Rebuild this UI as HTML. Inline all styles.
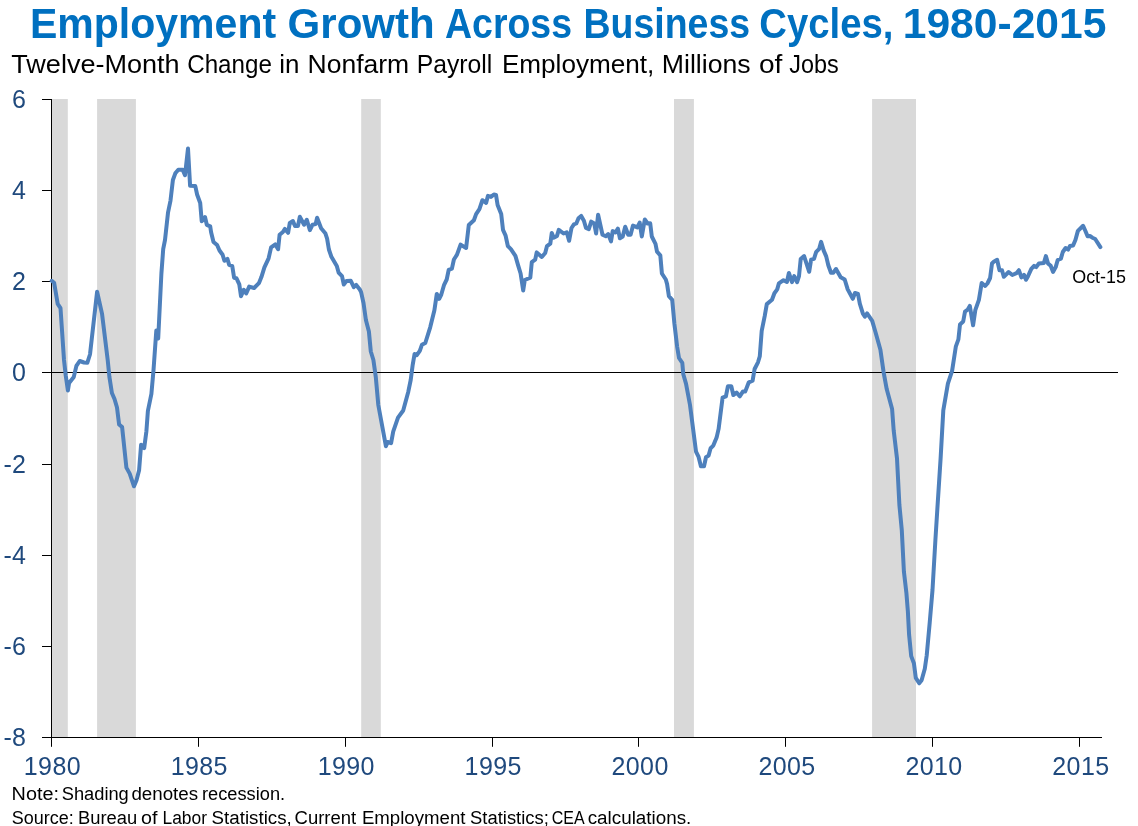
<!DOCTYPE html>
<html lang="en"><head><meta charset="utf-8"><title>Employment Growth Across Business Cycles, 1980-2015</title>
<style>html,body{margin:0;padding:0;background:#fff}body{width:1138px;height:826px;overflow:hidden;font-family:"Liberation Sans",sans-serif}svg{display:block}</style>
</head><body>
<svg width="1138" height="826" viewBox="0 0 1138 826">
<rect width="1138" height="826" fill="#fff"/>
<rect x="52.0" y="99" width="15.8" height="638.5" fill="#d9d9d9"/>
<rect x="97.1" y="99" width="38.8" height="638.5" fill="#d9d9d9"/>
<rect x="361.2" y="99" width="19.6" height="638.5" fill="#d9d9d9"/>
<rect x="674.0" y="99" width="19.9" height="638.5" fill="#d9d9d9"/>
<rect x="872.1" y="99" width="43.9" height="638.5" fill="#d9d9d9"/>
<g stroke="#000" stroke-width="1" fill="none">
<path d="M51.5 99V738"/>
<path d="M51 737.5H1102"/>
<path d="M51 372.5H1118"/>
<path d="M42 99.5H51.5"/>
<path d="M42 190.5H51.5"/>
<path d="M42 281.5H51.5"/>
<path d="M42 372.5H51.5"/>
<path d="M42 464.5H51.5"/>
<path d="M42 555.5H51.5"/>
<path d="M42 646.5H51.5"/>
<path d="M42 737.5H51.5"/>
<path d="M51.5 737.5V746.8"/>
<path d="M198.5 737.5V746.8"/>
<path d="M345.5 737.5V746.8"/>
<path d="M492.5 737.5V746.8"/>
<path d="M638.5 737.5V746.8"/>
<path d="M785.5 737.5V746.8"/>
<path d="M932.5 737.5V746.8"/>
<path d="M1079.5 737.5V746.8"/>
</g>
<polyline points="51.7,280.8 54.1,282.7 57.7,303.9 60.5,308.2 64.0,360.0 65.7,375.3 67.9,390.5 69.1,382.9 73.8,376.9 76.4,365.9 79.7,361.0 84.0,362.5 87.3,362.8 89.8,355.0 90.1,353.6 97.1,291.8 102.0,313.6 107.7,360.0 109.4,376.9 111.9,393.0 114.5,399.0 117.0,407.5 119.1,424.4 122.1,427.0 126.4,467.6 129.7,473.6 134.0,486.3 136.5,480.3 139.1,470.2 141.1,444.7 144.2,448.1 146.4,431.2 147.9,410.8 151.4,393.9 153.5,370.2 156.3,330.6 158.2,338.5 161.4,273.5 163.2,249.2 165.0,240.0 168.0,212.7 170.5,200.6 172.9,180.0 175.3,173.3 178.3,169.7 182.6,169.7 185.0,175.2 188.0,148.5 190.1,185.8 195.3,186.1 197.1,194.5 200.2,203.0 201.7,221.2 205.0,217.0 206.8,224.8 210.2,226.3 211.1,232.3 213.5,242.0 217.1,245.0 219.5,250.5 222.6,254.7 224.4,260.8 227.4,258.9 229.2,265.0 232.3,266.2 234.1,277.7 236.5,278.3 239.3,284.4 241.0,296.3 243.8,289.8 246.2,293.5 249.2,286.6 254.1,288.0 258.9,283.2 261.4,277.1 264.4,267.4 268.6,258.3 271.1,247.4 275.3,244.4 278.1,249.2 279.6,234.8 282.9,232.0 284.9,228.9 288.1,232.8 289.8,222.9 292.9,221.1 295.0,225.9 298.0,225.9 299.8,216.8 304.1,224.7 306.8,219.8 309.9,230.2 312.6,224.7 315.6,224.1 317.1,217.8 321.1,228.3 325.3,233.2 327.1,238.6 328.9,249.5 331.4,256.8 336.8,265.9 338.6,272.6 342.0,276.2 343.8,284.5 346.5,281.1 350.8,280.8 353.8,287.1 356.2,284.9 359.8,289.5 361.1,292.1 363.5,303.0 365.9,320.0 368.9,331.5 370.8,351.5 373.4,360.0 375.8,377.1 378.3,405.0 385.9,446.2 387.7,442.0 391.1,443.2 393.2,431.7 398.0,417.7 403.2,410.5 408.3,391.7 410.7,380.0 412.7,364.8 414.6,353.9 416.8,355.2 419.8,350.9 421.9,344.8 425.3,343.0 430.2,327.3 434.4,310.3 436.8,293.9 439.2,298.8 441.3,294.5 444.1,284.8 446.7,279.5 448.7,269.8 451.9,268.6 453.9,259.5 457.0,254.7 460.6,244.6 466.1,248.0 468.8,225.0 473.9,220.2 476.1,214.1 479.4,209.2 482.4,200.2 486.1,202.9 487.9,195.9 490.9,196.9 493.9,194.5 496.0,194.9 497.6,205.0 501.2,214.1 503.0,229.8 505.5,235.3 507.9,246.2 510.9,249.2 515.4,255.9 518.2,265.6 520.6,273.5 523.2,290.5 524.8,280.0 530.3,277.6 531.8,262.1 535.2,259.7 536.7,252.4 541.8,257.0 545.2,253.0 547.0,246.1 550.3,243.6 551.8,232.9 553.7,237.7 557.0,235.9 558.8,229.8 563.6,233.5 566.7,232.3 569.1,240.8 571.5,228.0 573.9,224.4 576.3,223.5 578.5,218.3 581.2,215.9 583.9,220.8 586.0,228.0 588.8,229.2 591.2,221.6 594.2,223.5 596.1,233.5 598.1,214.7 602.5,234.7 605.8,236.2 608.2,234.1 611.0,241.4 612.7,231.1 615.5,232.5 617.9,228.6 619.9,238.3 622.7,236.5 625.2,226.8 628.2,234.7 630.6,234.7 633.0,225.6 637.3,227.4 639.7,222.6 641.8,236.5 644.8,219.5 647.6,223.5 650.2,223.2 651.8,236.5 655.5,243.8 657.0,251.7 660.3,255.3 661.9,273.5 665.8,279.5 667.1,284.1 668.9,296.2 672.2,299.8 674.4,323.5 677.1,346.5 679.0,358.0 682.3,362.9 683.3,374.3 686.0,383.6 690.0,405.0 696.0,451.6 698.6,456.9 700.9,466.2 704.0,466.2 706.0,457.2 708.6,455.6 710.6,448.2 713.3,445.6 716.6,437.6 718.6,428.9 722.6,397.6 725.9,396.3 727.9,386.3 731.3,386.3 733.3,395.0 736.6,392.7 739.9,396.3 743.0,391.4 745.2,391.6 748.8,382.3 752.6,380.7 754.6,369.0 758.0,362.3 759.8,356.2 761.7,330.8 764.7,316.2 766.8,304.1 772.0,299.8 774.4,293.2 777.2,289.4 778.9,283.4 783.5,280.2 786.9,282.0 788.9,273.0 792.0,282.1 794.2,276.1 797.1,282.1 799.0,276.1 800.7,259.1 804.1,256.1 809.2,271.8 811.1,259.7 814.0,258.8 816.2,251.8 819.2,248.8 821.1,241.9 823.7,250.6 826.2,256.4 828.3,265.2 831.0,272.7 833.4,272.7 836.0,269.0 840.7,277.3 844.7,279.5 847.7,289.4 852.8,298.8 855.0,293.0 858.0,294.0 859.8,303.7 862.9,313.6 864.9,316.7 867.1,313.4 872.2,320.9 875.8,333.3 880.4,349.7 883.6,372.1 886.7,389.1 892.1,409.1 893.7,430.6 897.0,458.5 899.4,505.0 901.8,530.3 903.9,571.5 906.4,593.0 907.9,611.8 909.1,634.8 911.2,656.1 913.9,663.3 915.8,677.9 919.2,683.3 921.6,680.3 924.8,668.8 926.7,655.5 929.7,622.7 932.5,590.0 935.4,540.0 937.6,505.0 940.6,458.5 943.3,410.3 947.9,383.6 952.1,370.9 955.8,346.7 958.4,339.4 960.0,324.4 963.2,321.5 965.0,311.6 967.8,309.5 969.8,305.9 973.1,325.3 975.3,310.2 978.9,299.8 981.7,282.9 985.2,285.9 987.4,283.5 990.1,278.0 992.0,263.5 994.1,261.4 997.1,259.8 999.5,270.2 1002.0,270.2 1003.8,276.8 1008.6,272.0 1012.3,275.0 1016.5,273.2 1018.9,270.2 1021.4,277.4 1024.0,274.8 1026.0,279.8 1028.0,276.2 1031.3,268.9 1034.1,265.9 1036.2,267.1 1038.9,263.5 1043.9,262.9 1045.9,256.1 1048.0,263.4 1050.7,265.8 1053.0,271.9 1055.7,267.1 1057.7,260.0 1060.9,258.6 1062.8,252.0 1065.6,248.0 1068.1,249.6 1070.0,246.0 1073.1,245.5 1075.4,240.0 1077.9,230.9 1083.1,225.8 1085.2,230.5 1087.6,236.3 1089.9,236.0 1092.4,237.7 1095.2,239.0 1100.4,247.1" fill="none" stroke="#4e80bc" stroke-width="4" stroke-linejoin="round" stroke-linecap="round"/>
<g font-family="'Liberation Sans', sans-serif">
<text x="30.0" y="38.1" font-size="43" fill="#0070c0" font-weight="bold" textLength="246.1" lengthAdjust="spacingAndGlyphs">Employment</text>
<text x="287.6" y="38.1" font-size="43" fill="#0070c0" font-weight="bold" textLength="147.1" lengthAdjust="spacingAndGlyphs">Growth</text>
<text x="445.0" y="38.1" font-size="43" fill="#0070c0" font-weight="bold" textLength="127.0" lengthAdjust="spacingAndGlyphs">Across</text>
<text x="583.5" y="38.1" font-size="43" fill="#0070c0" font-weight="bold" textLength="166.6" lengthAdjust="spacingAndGlyphs">Business</text>
<text x="759.3" y="38.1" font-size="43" fill="#0070c0" font-weight="bold" textLength="134.1" lengthAdjust="spacingAndGlyphs">Cycles,</text>
<text x="902.7" y="38.1" font-size="43" fill="#0070c0" font-weight="bold" textLength="203.7" lengthAdjust="spacingAndGlyphs">1980-2015</text>
<text x="11.3" y="73.0" font-size="26" fill="#000" font-weight="normal" textLength="168.3" lengthAdjust="spacingAndGlyphs">Twelve-Month</text>
<text x="187.2" y="73.0" font-size="26" fill="#000" font-weight="normal" textLength="84.7" lengthAdjust="spacingAndGlyphs">Change</text>
<text x="279.3" y="73.0" font-size="26" fill="#000" font-weight="normal" textLength="20.2" lengthAdjust="spacingAndGlyphs">in</text>
<text x="307.5" y="73.0" font-size="26" fill="#000" font-weight="normal" textLength="101.7" lengthAdjust="spacingAndGlyphs">Nonfarm</text>
<text x="416.7" y="73.0" font-size="26" fill="#000" font-weight="normal" textLength="75.6" lengthAdjust="spacingAndGlyphs">Payroll</text>
<text x="501.9" y="73.0" font-size="26" fill="#000" font-weight="normal" textLength="152.5" lengthAdjust="spacingAndGlyphs">Employment,</text>
<text x="661.8" y="73.0" font-size="26" fill="#000" font-weight="normal" textLength="88.9" lengthAdjust="spacingAndGlyphs">Millions</text>
<text x="759.0" y="73.0" font-size="26" fill="#000" font-weight="normal" textLength="23.4" lengthAdjust="spacingAndGlyphs">of</text>
<text x="789.2" y="73.0" font-size="26" fill="#000" font-weight="normal" textLength="49.4" lengthAdjust="spacingAndGlyphs">Jobs</text>
<text x="25.8" y="108.1" font-size="25" fill="#1f497d" text-anchor="end">6</text>
<text x="25.8" y="199.1" font-size="25" fill="#1f497d" text-anchor="end">4</text>
<text x="25.8" y="290.1" font-size="25" fill="#1f497d" text-anchor="end">2</text>
<text x="25.8" y="381.1" font-size="25" fill="#1f497d" text-anchor="end">0</text>
<text x="25.8" y="473.1" font-size="25" fill="#1f497d" text-anchor="end">-2</text>
<text x="25.8" y="564.1" font-size="25" fill="#1f497d" text-anchor="end">-4</text>
<text x="25.8" y="655.1" font-size="25" fill="#1f497d" text-anchor="end">-6</text>
<text x="25.8" y="746.1" font-size="25" fill="#1f497d" text-anchor="end">-8</text>
<text x="52.4" y="774.8" font-size="25" fill="#1f497d" text-anchor="middle" letter-spacing="0.4">1980</text>
<text x="199.3" y="774.8" font-size="25" fill="#1f497d" text-anchor="middle" letter-spacing="0.4">1985</text>
<text x="346.3" y="774.8" font-size="25" fill="#1f497d" text-anchor="middle" letter-spacing="0.4">1990</text>
<text x="493.2" y="774.8" font-size="25" fill="#1f497d" text-anchor="middle" letter-spacing="0.4">1995</text>
<text x="640.1" y="774.8" font-size="25" fill="#1f497d" text-anchor="middle" letter-spacing="0.4">2000</text>
<text x="787.0" y="774.8" font-size="25" fill="#1f497d" text-anchor="middle" letter-spacing="0.4">2005</text>
<text x="934.0" y="774.8" font-size="25" fill="#1f497d" text-anchor="middle" letter-spacing="0.4">2010</text>
<text x="1080.9" y="774.8" font-size="25" fill="#1f497d" text-anchor="middle" letter-spacing="0.4">2015</text>
<text x="1072.2" y="282.5" font-size="17.8" fill="#000" textLength="53.8" lengthAdjust="spacingAndGlyphs">Oct-15</text>
<text x="11.6" y="799.7" font-size="18" fill="#000" font-weight="normal" textLength="47.4" lengthAdjust="spacingAndGlyphs">Note:</text>
<text x="61.7" y="799.7" font-size="18" fill="#000" font-weight="normal" textLength="67.1" lengthAdjust="spacingAndGlyphs">Shading</text>
<text x="131.4" y="799.7" font-size="18" fill="#000" font-weight="normal" textLength="66.7" lengthAdjust="spacingAndGlyphs">denotes</text>
<text x="202.0" y="799.7" font-size="18" fill="#000" font-weight="normal" textLength="83.1" lengthAdjust="spacingAndGlyphs">recession.</text>
<text x="11.7" y="823.5" font-size="18" fill="#000" font-weight="normal" textLength="62.0" lengthAdjust="spacingAndGlyphs">Source:</text>
<text x="78.0" y="823.5" font-size="18" fill="#000" font-weight="normal" textLength="59.2" lengthAdjust="spacingAndGlyphs">Bureau</text>
<text x="141.0" y="823.5" font-size="18" fill="#000" font-weight="normal" textLength="16.4" lengthAdjust="spacingAndGlyphs">of</text>
<text x="162.5" y="823.5" font-size="18" fill="#000" font-weight="normal" textLength="44.5" lengthAdjust="spacingAndGlyphs">Labor</text>
<text x="211.6" y="823.5" font-size="18" fill="#000" font-weight="normal" textLength="80.2" lengthAdjust="spacingAndGlyphs">Statistics,</text>
<text x="294.6" y="823.5" font-size="18" fill="#000" font-weight="normal" textLength="61.6" lengthAdjust="spacingAndGlyphs">Current</text>
<text x="361.9" y="823.5" font-size="18" fill="#000" font-weight="normal" textLength="103.6" lengthAdjust="spacingAndGlyphs">Employment</text>
<text x="470.1" y="823.5" font-size="18" fill="#000" font-weight="normal" textLength="78.7" lengthAdjust="spacingAndGlyphs">Statistics;</text>
<text x="551.7" y="823.5" font-size="18" fill="#000" font-weight="normal" textLength="32.9" lengthAdjust="spacingAndGlyphs">CEA</text>
<text x="587.7" y="823.5" font-size="18" fill="#000" font-weight="normal" textLength="103.6" lengthAdjust="spacingAndGlyphs">calculations.</text>
</g>
</svg>
</body></html>
